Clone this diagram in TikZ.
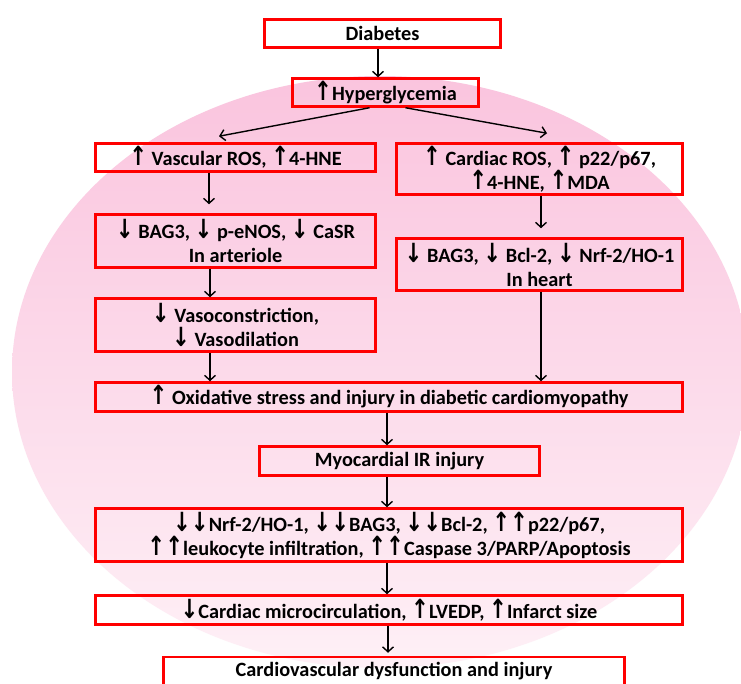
\documentclass[tikz,border=0pt]{standalone}
\usepackage{graphicx}
\usepackage{fontspec}
\setmainfont{Carlito}
\newfontfamily\arrowfont{DejaVu Sans}
\usetikzlibrary{arrows.meta}

\newcommand{\upar}{\scalebox{1.05}[1.3]{\arrowfont\char"2191}}
\newcommand{\dnar}{\scalebox{1.05}[1.3]{\arrowfont\char"2193}}

\definecolor{pinktop}{RGB}{250,196,222}
\definecolor{pinkmid}{RGB}{252,207,228}
\definecolor{pinkbot}{RGB}{254,240,246}

\tikzstyle{box}=[draw=red, line width=2.5pt, inner sep=0pt, align=center, font=\fontsize{20.3}{24}\selectfont\bfseries]
\tikzstyle{link}=[draw, line width=1.4pt, ->, >={Straight Barb[length=5pt,width=11pt]}]

\begin{document}
\begin{tikzpicture}[x=1pt, y=-1pt]
  \useasboundingbox (0,0) rectangle (741,684);
  \fill[white] (0,0) rectangle (741,684);
  \shade[top color=pinktop, middle color=pinkmid, bottom color=pinkbot] (380,372) ellipse [x radius=368pt, y radius=296pt];

  \node[box, minimum width=236pt, minimum height=28pt] (dia)  at (382.5,33.5) {Diabetes};
  \node[box, minimum width=186pt, minimum height=28pt] (hyp)  at (385.5,92.5) {\upar Hyperglycemia};
  \node[box, minimum width=280pt, minimum height=28pt] (vros) at (235.5,157.5) {\upar\ Vascular ROS, \upar 4-HNE};
  \node[box, minimum width=286pt, minimum height=51pt] (cros) at (539.5,169) {\upar\ Cardiac ROS, \upar\ p22/p67,\\ \upar 4-HNE, \upar MDA};
  \node[box, minimum width=280pt, minimum height=53pt] (bagv) at (235.5,241) {\dnar\ BAG3, \dnar\ p-eNOS, \dnar\ CaSR\\ In arteriole};
  \node[box, minimum width=286pt, minimum height=52pt] (bagh) at (539.5,264.5) {\dnar\ BAG3, \dnar\ Bcl-2, \dnar\ Nrf-2/HO-1\\ In heart};
  \node[box, minimum width=280pt, minimum height=53pt] (vaso) at (235.5,325) {\dnar\ Vasoconstriction,\\ \dnar\ Vasodilation};
  \node[box, minimum width=587pt, minimum height=29pt] (oxi)  at (389,397) {\upar\ Oxidative stress and injury in diabetic cardiomyopathy};
  \node[box, minimum width=280pt, minimum height=29pt] (myo)  at (399.5,461) {Myocardial IR injury};
  \node[box, minimum width=587pt, minimum height=53pt] (nrf)  at (389,535) {\dnar\dnar Nrf-2/HO-1, \dnar\dnar BAG3, \dnar\dnar Bcl-2, \upar\upar p22/p67,\\ \upar\upar leukocyte infiltration, \upar\upar Caspase 3/PARP/Apoptosis};
  \node[box, minimum width=587pt, minimum height=29pt] (mic)  at (389,610) {\dnar Cardiac microcirculation, \upar LVEDP, \upar Infarct size};
  \node[box, minimum width=461pt, minimum height=29pt] (cvd)  at (394,671.5) {Cardiovascular dysfunction and injury};

  \draw[link] (dia.south -| 378,0) -- (hyp.north -| 378,0);
  \draw[link] ([xshift=-16pt]hyp.south) -- ([xshift=-16.5pt, yshift=6pt]vros.north);
  \draw[link] ([xshift=20pt]hyp.south)  -- ([xshift=7.5pt, yshift=9pt]cros.north);
  \draw[link, shorten >=9pt] (vros.south -| 209,0) -- (bagv.north -| 209,0);
  \draw[link] (bagv.south -| 210,0) -- (vaso.north -| 210,0);
  \draw[link] (vaso.south -| 210,0) -- (oxi.north -| 210,0);
  \draw[link, shorten >=9pt] (cros.south -| 541,0) -- (bagh.north -| 541,0);
  \draw[link] (bagh.south -| 541,0) -- (oxi.north -| 541,0);
  \draw[link] (oxi.south -| 387,0) -- (myo.north -| 387,0);
  \draw[link] (myo.south -| 387,0) -- (nrf.north -| 387,0);
  \draw[link] (nrf.south -| 387,0) -- (mic.north -| 387,0);
  \draw[link, shorten >=3pt] (mic.south -| 388,0) -- (cvd.north -| 388,0);
\end{tikzpicture}
\end{document}
